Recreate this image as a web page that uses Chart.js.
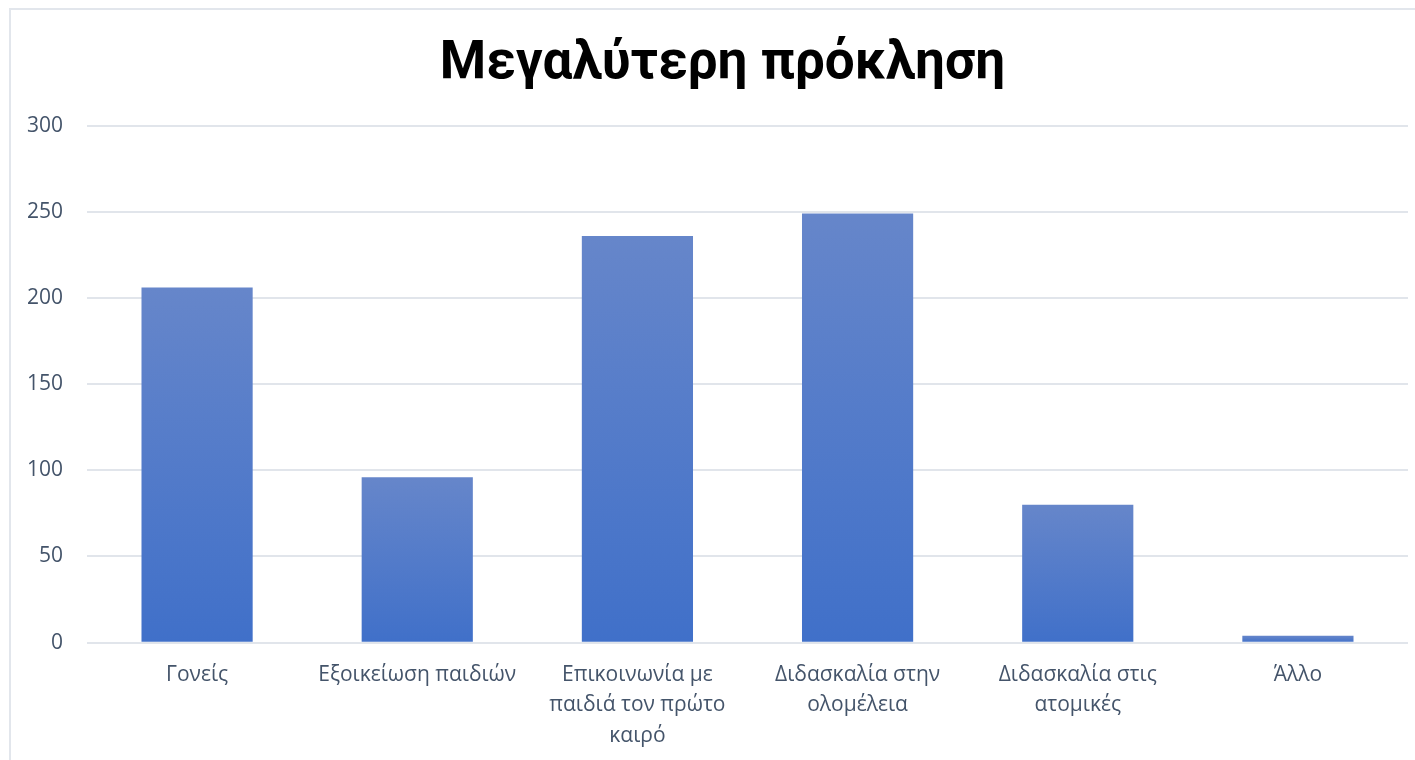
<!DOCTYPE html>
<html>
<head>
<meta charset="utf-8">
<script src="https://cdn.jsdelivr.net/npm/chart.js@4/dist/chart.umd.min.js"></script>
<style>
  html, body { margin: 0; padding: 0; background: #fff; overflow: hidden; }
  #frame {
    position: absolute; left: 9px; top: 8px;
    width: 1406px; height: 760px;
    border-left: 2px solid #e2e6ec; border-top: 2px solid #e2e6ec;
  }
  #chartBox { position: absolute; left: 0; top: 0; width: 1404px; height: 758px; }
</style>
</head>
<body>
<div id="frame"><div id="chartBox"><canvas id="challengeChart"></canvas></div></div>
<script>
// DATA
const categories = [
    'Γονείς',
    'Εξοικείωση παιδιών',
    ['Επικοινωνία με', 'παιδιά τον πρώτο', 'καιρό'],
    ['Διδασκαλία στην', 'ολομέλεια'],
    ['Διδασκαλία στις', 'ατομικές'],
    'Άλλο'
];
const answers = [206, 96, 236, 249, 80, 4];
const yTicks = [0, 50, 100, 150, 200, 250, 300];

// gradient per bar, lighter on top
function barGradient(context) {
    const chart = context.chart;
    const yScale = chart.scales.y;
    if (!yScale || context.type !== 'data') return '#4a76c9';
    const top = yScale.getPixelForValue(context.raw);
    const bottom = yScale.getPixelForValue(0);
    if (!isFinite(top) || !isFinite(bottom) || top === bottom) return '#4a76c9';
    const g = chart.ctx.createLinearGradient(0, top, 0, bottom);
    g.addColorStop(0, '#6686ca');
    g.addColorStop(1, '#4070c9');
    return g;
}

// nudge title a bit to the right, like the original
const titleShift = {
    id: 'titleShift',
    afterLayout(chart) {
        if (chart.titleBlock) {
            chart.titleBlock.left += 13;
            chart.titleBlock.right += 13;
        }
    }
};

const ctx = document.getElementById('challengeChart').getContext('2d');
new Chart(ctx, {
    type: 'bar',
    data: {
        labels: categories,
        datasets: [{
            label: 'Μεγαλύτερη πρόκληση',
            data: answers,
            backgroundColor: barGradient,
            borderWidth: 0,
            categoryPercentage: 1,
            barPercentage: 0.505
        }]
    },
    options: {
        responsive: true,
        maintainAspectRatio: false,
        animation: false,
        layout: { padding: { left: 0, right: 7, top: 0, bottom: 0 } },
        plugins: {
            legend: { display: false },
            tooltip: { enabled: false },
            title: {
                display: true,
                text: 'Μεγαλύτερη πρόκληση',
                color: '#000',
                font: { family: 'Roboto', size: 53, weight: 'bold', lineHeight: 1.2 },
                padding: { top: 23, bottom: 29 }
            }
        },
        scales: {
            x: {
                grid: { display: false, drawTicks: false },
                border: { display: false },
                ticks: {
                    color: '#44546a',
                    font: { family: 'Open Sans', size: 21, lineHeight: 1.45 },
                    padding: 17,
                    maxRotation: 0,
                    autoSkip: false
                }
            },
            y: {
                min: 0,
                max: 300,
                afterFit: function(scale) { scale.width = 76; },
                afterBuildTicks: function(scale) {
                    scale.ticks = yTicks.map(v => ({ value: v }));
                },
                grid: { color: '#e1e5eb', lineWidth: 2, drawTicks: false },
                border: { display: false },
                ticks: {
                    color: '#44546a',
                    font: { family: 'Open Sans', size: 21 },
                    padding: 24
                }
            }
        }
    },
    plugins: [titleShift]
});
</script>
</body>
</html>
